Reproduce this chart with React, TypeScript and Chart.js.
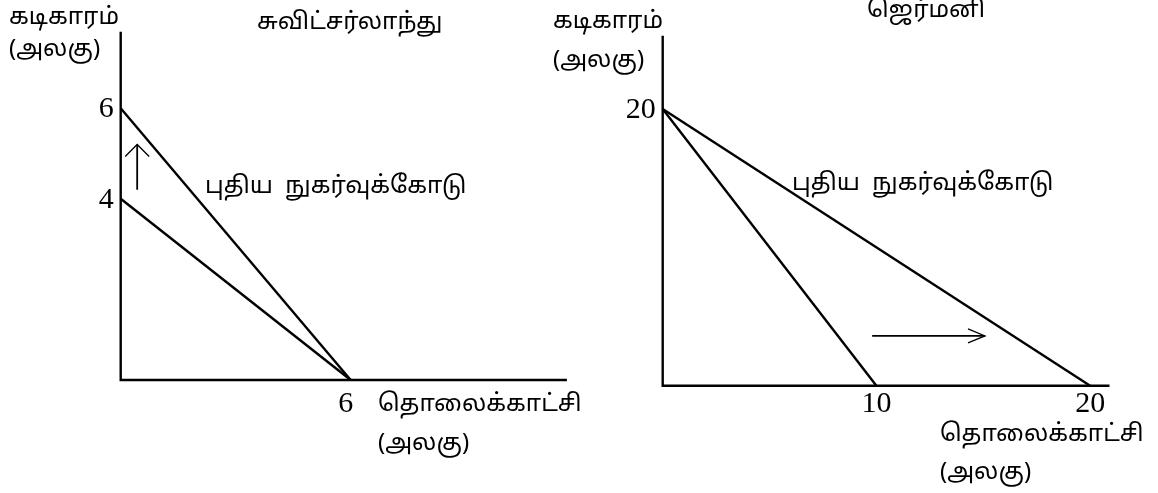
import React, { useEffect, useRef } from "react";
import { Chart, registerables } from "chart.js";

Chart.register(...registerables);

// ---- Data ----
// Switzerland: clocks (y) vs televisions (x)
const swissClockIntercepts = [4, 6]; // old, new budget line
const swissTvIntercepts = [6, 6];
const swissYTicks = [4, 6];
const swissXTicks = [6];
const swissArrowX = [0.43, 0.43];
const swissArrowY = [4.2, 5.2];

// Germany
const germanyClockIntercepts = [20, 20];
const germanyTvIntercepts = [10, 20];
const germanyYTicks = [20];
const germanyXTicks = [10, 20];
const germanyArrowX = [9.8, 15.08];
const germanyArrowY = [3.6, 3.6];

const W = 1158;
const H = 493;
const DIGIT_FONT = '30px "Liberation Serif", "Times New Roman", serif';
const TAMIL_FONT = '24px "Noto Sans", "Noto Sans Tamil", Lato, sans-serif';

type Txt = { t: string; x: number; y: number };

function makePlugin(opts: {
  yTicks: number[];
  xTicks: number[];
  arrowX: number[];
  arrowY: number[];
  arrowDir: "up" | "right";
  texts: Txt[];
  yTickGap: number;
  xTickDy: number;
  xTickDx: number;
}) {
  return {
    id: "decor",
    afterDatasetsDraw(chart: any) {
      const ctx = chart.ctx as CanvasRenderingContext2D;
      const xs = chart.scales.x;
      const ys = chart.scales.y;
      const x0 = xs.getPixelForValue(0);
      const y0 = ys.getPixelForValue(0);
      const ca = chart.chartArea;
      ctx.save();
      ctx.strokeStyle = "#000";
      ctx.fillStyle = "#000";
      ctx.lineWidth = 2.4;
      ctx.lineCap = "square";
      ctx.beginPath();
      ctx.moveTo(x0, ca.top);
      ctx.lineTo(x0, y0);
      ctx.lineTo(ca.right, y0);
      ctx.stroke();

      // tick labels
      ctx.font = DIGIT_FONT;
      ctx.textBaseline = "middle";
      ctx.textAlign = "right";
      opts.yTicks.forEach((v) => {
        ctx.fillText(String(v), x0 - opts.yTickGap, ys.getPixelForValue(v) + 1);
      });
      ctx.textAlign = "center";
      opts.xTicks.forEach((v) => {
        ctx.fillText(String(v), xs.getPixelForValue(v) + opts.xTickDx, y0 + opts.xTickDy);
      });

      // arrow
      const ax1 = xs.getPixelForValue(opts.arrowX[0]);
      const ay1 = ys.getPixelForValue(opts.arrowY[0]);
      const ax2 = xs.getPixelForValue(opts.arrowX[1]);
      const ay2 = ys.getPixelForValue(opts.arrowY[1]);
      ctx.lineWidth = 1.8;
      ctx.lineCap = "butt";
      ctx.beginPath();
      ctx.moveTo(ax1, ay1);
      ctx.lineTo(ax2, ay2);
      ctx.stroke();
      ctx.lineWidth = 1.3;
      ctx.beginPath();
      if (opts.arrowDir === "up") {
        ctx.moveTo(ax2 - 12, ay2 + 12);
        ctx.lineTo(ax2, ay2);
        ctx.lineTo(ax2 + 12, ay2 + 12);
      } else {
        ctx.moveTo(ax2 - 17, ay2 - 7);
        ctx.lineTo(ax2, ay2);
        ctx.lineTo(ax2 - 17, ay2 + 7);
      }
      ctx.stroke();

      // texts
      ctx.font = TAMIL_FONT;
      ctx.textAlign = "left";
      ctx.textBaseline = "middle";
      opts.texts.forEach((tx) => ctx.fillText(tx.t, tx.x, tx.y));
      ctx.restore();
    },
  };
}

function buildConfig(
  clock: number[],
  tv: number[],
  xMax: number,
  yMax: number,
  padding: { left: number; right: number; top: number; bottom: number },
  plugin: any
): any {
  return {
    type: "line",
    data: {
      datasets: clock.map((c, i) => ({
        data: [
          { x: 0, y: c },
          { x: tv[i], y: 0 },
        ],
        borderColor: "#000",
        borderWidth: 2.4,
        pointRadius: 0,
        fill: false,
        tension: 0,
        clip: false,
      })),
    },
    options: {
      responsive: false,
      animation: false,
      events: [],
      layout: { padding },
      plugins: { legend: { display: false }, tooltip: { enabled: false } },
      scales: {
        x: { type: "linear", display: false, min: 0, max: xMax },
        y: { type: "linear", display: false, min: 0, max: yMax },
      },
    },
    plugins: [plugin],
  };
}

export default function App() {
  const leftRef = useRef<HTMLCanvasElement>(null);
  const rightRef = useRef<HTMLCanvasElement>(null);

  useEffect(() => {
    const leftPlugin = makePlugin({
      yTicks: swissYTicks,
      xTicks: swissXTicks,
      arrowX: swissArrowX,
      arrowY: swissArrowY,
      arrowDir: "up",
      yTickGap: 7,
      xTickDy: 24,
      xTickDx: -5,
      texts: [
        { t: "கடிகாரம்", x: 9, y: 17 },
        { t: "(அலகு)", x: 9, y: 49 },
        { t: "சுவிட்சர்லாந்து", x: 257, y: 22 },
        { t: "புதிய  நுகர்வுக்கோடு", x: 205, y: 186 },
        { t: "தொலைக்காட்சி", x: 378, y: 404 },
        { t: "(அலகு)", x: 378, y: 443 },
      ],
    });
    const rightPlugin = makePlugin({
      yTicks: germanyYTicks,
      xTicks: germanyXTicks,
      arrowX: germanyArrowX,
      arrowY: germanyArrowY,
      arrowDir: "right",
      yTickGap: 7,
      xTickDy: 18,
      xTickDx: 0,
      texts: [
        { t: "கடிகாரம்", x: 553, y: 21 },
        { t: "(அலகு)", x: 553, y: 60 },
        { t: "ஜெர்மனி", x: 867, y: 10 },
        { t: "புதிய  நுகர்வுக்கோடு", x: 792, y: 183 },
        { t: "தொலைக்காட்சி", x: 940, y: 434 },
        { t: "(அலகு)", x: 940, y: 472 },
      ],
    });

    const left = new Chart(
      leftRef.current as HTMLCanvasElement,
      buildConfig(
        swissClockIntercepts,
        swissTvIntercepts,
        11.61,
        7.66,
        { left: 120.7, right: W - 565.7, top: 33, bottom: H - 380 },
        leftPlugin
      )
    );
    const right = new Chart(
      rightRef.current as HTMLCanvasElement,
      buildConfig(
        germanyClockIntercepts,
        germanyTvIntercepts,
        20.85,
        25.2,
        { left: 662.7, right: W - 1108.3, top: 37, bottom: H - 385.7 },
        rightPlugin
      )
    );
    return () => {
      left.destroy();
      right.destroy();
    };
  }, []);

  const cStyle: React.CSSProperties = { position: "absolute", left: 0, top: 0 };
  return (
    <div style={{ position: "fixed", left: 0, top: 0, width: W, height: H, background: "#fff" }}>
      <canvas ref={leftRef} width={W} height={H} style={cStyle} />
      <canvas ref={rightRef} width={W} height={H} style={cStyle} />
    </div>
  );
}
